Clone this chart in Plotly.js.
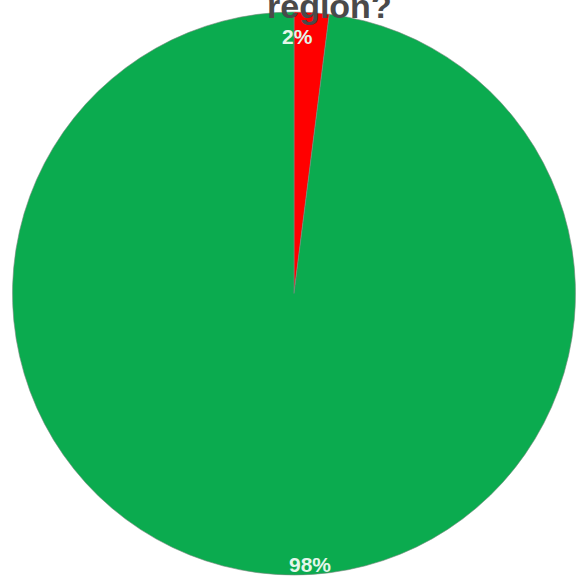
<!DOCTYPE html>
<html>
<head>
<meta charset="utf-8">
<script src="https://cdn.plot.ly/plotly-3.0.1.min.js"></script>
<style>html,body{margin:0;padding:0;background:#fff;}#chart{width:577px;height:580px;}</style>
</head>
<body>
<div id="chart"></div>
<script>
var labels = ['Yes', 'No'];
var values = [2, 98];
var colors = ['#ff0000', '#0bab4f'];
var titleText = 'region?';

var total = values.reduce(function(a, b) { return a + b; }, 0);
var pct = values.map(function(v) { return Math.round(v / total * 100) + '%'; });

var W = 577, H = 580;
var labelPos = [[297, 37], [310, 564]];

var annotations = pct.map(function(t, i) {
  return {
    text: '<b>' + t + '</b>', xref: 'paper', yref: 'paper',
    x: labelPos[i][0] / W, y: 1 - labelPos[i][1] / H,
    xanchor: 'center', yanchor: 'middle', showarrow: false,
    font: {family: 'Liberation Sans, Arial, sans-serif', size: 21, color: '#e4f6ea'}
  };
});
annotations.push({
  text: '<b>' + titleText + '</b>', xref: 'paper', yref: 'paper',
  x: 329 / W, y: 1 - 27 / H, xanchor: 'center', yanchor: 'bottom', showarrow: false,
  font: {family: 'Liberation Sans, Arial, sans-serif', size: 34, color: '#4a4a4a'}
});

var trace = {
  type: 'pie', labels: labels, values: values, sort: false,
  direction: 'clockwise', rotation: 0,
  marker: {colors: colors, line: {color: '#7a8a80', width: 0.6}},
  textinfo: 'none', hoverinfo: 'label+percent',
  domain: {x: [12 / W, 576 / W], y: [1 - 575 / H, 1 - 12 / H]}
};

Plotly.newPlot('chart', [trace], {
  width: W, height: H, margin: {l: 0, r: 0, t: 0, b: 0},
  showlegend: false, paper_bgcolor: '#ffffff', annotations: annotations
}, {displayModeBar: false, staticPlot: true});
</script>
</body>
</html>
